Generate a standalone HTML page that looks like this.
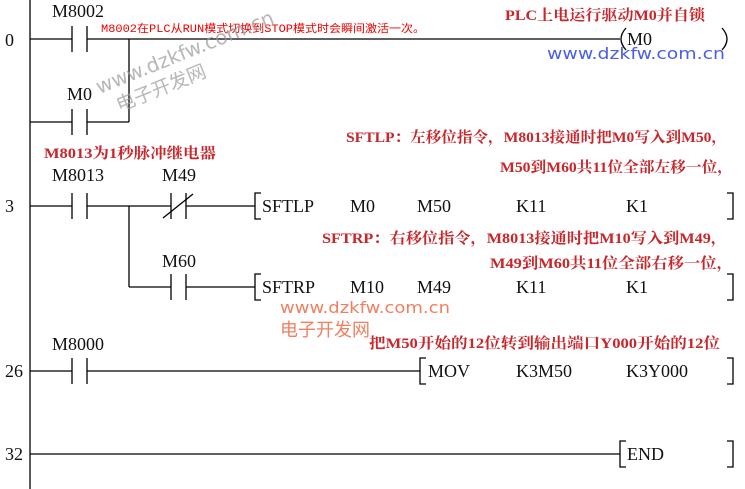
<!DOCTYPE html>
<html><head><meta charset="utf-8"><style>
html,body{margin:0;padding:0;background:#fff;}
svg{display:block;}
.t{font-family:"Liberation Serif","Noto Serif CJK SC",serif;font-size:18px;fill:#111;}
.r{font-family:"Liberation Serif","Noto Serif CJK SC",serif;font-size:15px;font-weight:bold;fill:#c8262a;}
.rs{font-family:"Liberation Mono","Noto Sans CJK SC",sans-serif;font-size:11px;fill:#e00;}
</style></head><body>
<svg width="745" height="489" viewBox="0 0 745 489" xmlns="http://www.w3.org/2000/svg">
<g stroke="#000" stroke-width="1.3" fill="none">
<line x1="30" y1="0" x2="30" y2="489"/>
<line x1="30" y1="39" x2="72" y2="39"/><line x1="87" y1="39" x2="620" y2="39"/>
<line x1="72" y1="26" x2="72" y2="52"/><line x1="87" y1="26" x2="87" y2="52"/>
<line x1="129" y1="39" x2="129" y2="122"/>
<line x1="30" y1="122" x2="72" y2="122"/><line x1="87" y1="122" x2="129" y2="122"/>
<line x1="72" y1="109" x2="72" y2="135"/><line x1="87" y1="109" x2="87" y2="135"/>
<path d="M626 28 Q616 39 626 50"/><path d="M722 28 Q732 39 722 50"/>
<line x1="30" y1="206" x2="72" y2="206"/><line x1="87" y1="206" x2="171" y2="206"/>
<line x1="72" y1="193" x2="72" y2="219"/><line x1="87" y1="193" x2="87" y2="219"/>
<line x1="171" y1="193" x2="171" y2="219"/><line x1="186" y1="193" x2="186" y2="219"/>
<line x1="163" y1="218" x2="193" y2="194"/>
<line x1="186" y1="206" x2="255" y2="206"/>
<path d="M261 193 H255 V219 H261"/><path d="M727 193 H733 V219 H727"/>
<line x1="129" y1="206" x2="129" y2="287"/>
<line x1="129" y1="287" x2="171" y2="287"/><line x1="186" y1="287" x2="255" y2="287"/>
<line x1="171" y1="274" x2="171" y2="300"/><line x1="186" y1="274" x2="186" y2="300"/>
<path d="M261 274 H255 V300 H261"/><path d="M727 274 H733 V300 H727"/>
<line x1="30" y1="371" x2="72" y2="371"/><line x1="87" y1="371" x2="420" y2="371"/>
<line x1="72" y1="358" x2="72" y2="384"/><line x1="87" y1="358" x2="87" y2="384"/>
<path d="M426 358 H420 V384 H426"/><path d="M727 358 H733 V384 H727"/>
<line x1="30" y1="454" x2="620" y2="454"/>
<path d="M626 441 H620 V467 H626"/><path d="M727 441 H733 V467 H727"/>
</g>
<g class="t">
<text x="5" y="46">0</text><text x="5" y="212">3</text><text x="5" y="377">26</text><text x="5" y="460">32</text>
<text x="52" y="17">M8002</text><text x="67" y="100">M0</text>
<text x="52" y="181">M8013</text><text x="162" y="181">M49</text>
<text x="162" y="267">M60</text><text x="52" y="350">M8000</text>
<text x="262" y="212">SFTLP</text><text x="350" y="212">M0</text><text x="417" y="212">M50</text><text x="516" y="212">K11</text><text x="626" y="212">K1</text>
<text x="262" y="293">SFTRP</text><text x="350" y="293">M10</text><text x="417" y="293">M49</text><text x="516" y="293">K11</text><text x="626" y="293">K1</text>
<text x="428" y="377">MOV</text><text x="516" y="377">K3M50</text><text x="626" y="377">K3Y000</text>
<text x="627" y="460">END</text>
<text x="627" y="45">M0</text>
</g>
<text class="rs" x="101" y="32" textLength="324" lengthAdjust="spacingAndGlyphs">M8002在PLC从RUN模式切换到STOP模式时会瞬间激活一次。</text>
<g class="r">
<text x="505" y="20" textLength="200" lengthAdjust="spacingAndGlyphs">PLC上电运行驱动M0并自锁</text>
<text x="44" y="158" textLength="172" lengthAdjust="spacingAndGlyphs">M8013为1秒脉冲继电器</text>
<text x="346" y="142" textLength="381" lengthAdjust="spacingAndGlyphs">SFTLP：左移位指令，M8013接通时把M0写入到M50，</text>
<text x="500" y="172" textLength="233" lengthAdjust="spacingAndGlyphs">M50到M60共11位全部左移一位，</text>
<text x="322" y="243" textLength="405" lengthAdjust="spacingAndGlyphs">SFTRP：右移位指令，M8013接通时把M10写入到M49，</text>
<text x="490" y="268" textLength="243" lengthAdjust="spacingAndGlyphs">M49到M60共11位全部右移一位，</text>
<text x="369" y="348" textLength="351" lengthAdjust="spacingAndGlyphs">把M50开始的12位转到输出端口Y000开始的12位</text>
</g>
<g font-family="'DejaVu Sans','Noto Sans CJK SC',sans-serif" font-size="20" fill="#999" opacity="0.7" transform="rotate(-22 105 95)">
<text x="100" y="92" textLength="190" lengthAdjust="spacingAndGlyphs">www.dzkfw.com.cn</text><text x="112" y="116" font-size="19">电子开发网</text>
</g>
<text x="547" y="59" font-family="'DejaVu Sans',sans-serif" font-size="16" fill="#4a5ee8" textLength="178" lengthAdjust="spacingAndGlyphs">www.dzkfw.com.cn</text>
<text x="280" y="313" font-family="'DejaVu Sans',sans-serif" font-size="16" fill="#f08060" textLength="170" lengthAdjust="spacingAndGlyphs">www.dzkfw.com.cn</text>
<text x="280" y="336" font-family="'Noto Sans CJK SC',sans-serif" font-size="18" fill="#f08060">电子开发网</text>
</svg>
</body></html>
